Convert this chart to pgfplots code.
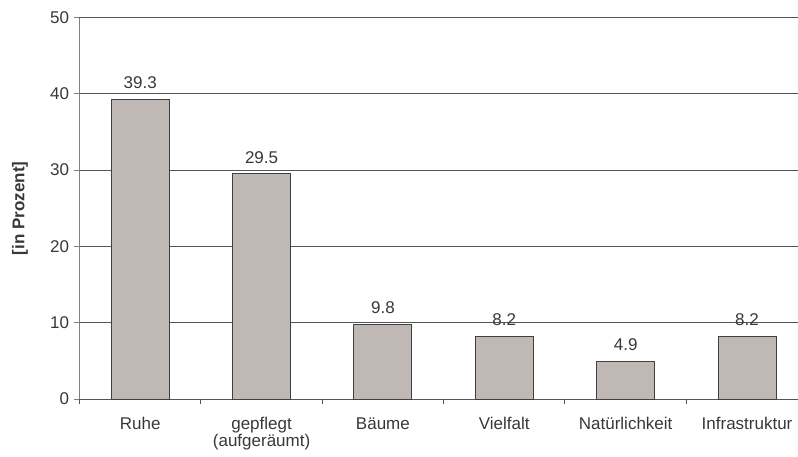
\documentclass[border=0pt]{standalone}
\usepackage{pgfplots}
\pgfplotsset{compat=1.18}
\usepackage{fontspec}
\setmainfont{Liberation Sans}
\definecolor{barfill}{HTML}{C0B8B5}
\definecolor{baredge}{HTML}{404040}
\definecolor{gridc}{HTML}{555555}
\definecolor{yaxisc}{HTML}{808080}
\definecolor{txt}{HTML}{383838}
\begin{document}
\begin{tikzpicture}
\useasboundingbox (0,0) rectangle (798pt,456pt);
\begin{axis}[
  at={(79.5pt,57pt)}, anchor=south west,
  scale only axis, width=718.5pt, height=381.5pt,
  xmin=-0.5, xmax=5.42, ymin=0, ymax=50,
  axis x line*=bottom, axis y line*=left,
  x axis line style={-, draw=gridc, line width=1pt},
  y axis line style={-, draw=yaxisc, line width=1pt},
  ytick={0,10,...,50},
  ymajorgrids,
  major grid style={draw=gridc, line width=1pt},
  tick align=outside,
  major tick length=5pt, minor tick length=5pt,
  ytick style={draw=yaxisc, line width=1pt},
  xtick={0,...,5},
  major x tick style={draw=none},
  minor xtick={-0.5,0.5,1.5,2.5,3.5,4.5},
  minor x tick style={draw=gridc, line width=1pt},
  xticklabels={Ruhe,{gepflegt\\(aufgeräumt)},Bäume,Vielfalt,Natürlichkeit,Infrastruktur},
  xticklabel style={font=\fontsize{17}{16.8}\selectfont, color=txt, align=center, anchor=north, yshift=-10pt},
  yticklabel style={font=\fontsize{17}{19}\selectfont, color=txt, xshift=-2pt},
  /pgf/number format/assume math mode=true,
  every axis y label/.style={at={(axis description cs:0,0.5)}, xshift=-59.5pt, rotate=90, anchor=center},
  ylabel={\bfseries [in Prozent]},
  ylabel style={font=\fontsize{17}{19}\selectfont, color=txt},
  ybar, bar width=58pt,
  nodes near coords,
  point meta=y,
  nodes near coords style={font=\fontsize{17}{19}\selectfont, color=txt, anchor=base, yshift=10.7pt,
    /pgf/number format/fixed, /pgf/number format/precision=1, /pgf/number format/fixed zerofill},
]
\addplot[fill=barfill, draw=baredge, line width=1pt] coordinates {
  (0,39.3) (1,29.5) (2,9.8) (3,8.2) (4,4.9) (5,8.2)
};
\end{axis}
\end{tikzpicture}
\end{document}
